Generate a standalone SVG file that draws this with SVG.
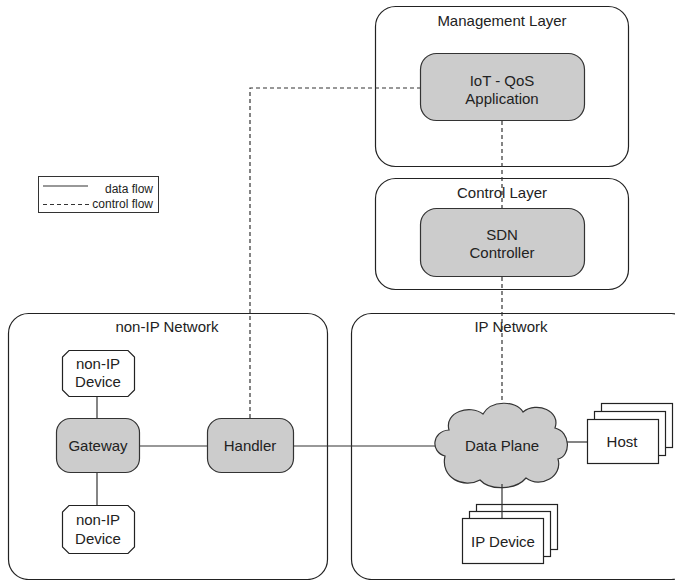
<svg xmlns="http://www.w3.org/2000/svg" width="675" height="580" viewBox="0 0 675 580">
  <style>
    .zone { fill: #ffffff; stroke: #222; stroke-width: 1.2; }
    .proc { fill: #cccccc; stroke: #333; stroke-width: 1.2; }
    .box { fill: #ffffff; stroke: #222; stroke-width: 1.2; }
    .lbl { font-family: "Liberation Sans", Arial, sans-serif; font-size: 15px; fill: #222; text-anchor: middle; }
    .leg { font-family: "Liberation Sans", Arial, sans-serif; font-size: 12px; fill: #222; text-anchor: end; }
    .data { fill: none; stroke: #333; stroke-width: 1.2; }
    .ctrl { fill: none; stroke: #333; stroke-width: 1.2; stroke-dasharray: 4 3; }
  </style>

  <rect width="675" height="580" fill="#ffffff"/>

  <!-- Layer and network regions -->
  <g id="management-layer">
    <rect class="zone" x="375.5" y="6.5" width="253" height="160" rx="20"/>
    <text class="lbl" x="502" y="26">Management Layer</text>
  </g>
  <g id="control-layer">
    <rect class="zone" x="375.5" y="178.5" width="253" height="111" rx="20"/>
    <text class="lbl" x="502" y="198">Control Layer</text>
  </g>
  <g id="non-ip-network">
    <rect class="zone" x="8.5" y="313.5" width="319" height="266" rx="20"/>
    <text class="lbl" x="167" y="332">non-IP Network</text>
  </g>
  <g id="ip-network">
    <rect class="zone" x="351.5" y="313.5" width="340" height="266" rx="20"/>
    <text class="lbl" x="511" y="332">IP Network</text>
  </g>

  <!-- Legend -->
  <g id="legend">
    <rect x="38.5" y="176.5" width="120" height="36" fill="#ffffff" stroke="#333" stroke-width="1"/>
    <line class="data" x1="43" y1="186" x2="88" y2="186"/>
    <text class="leg" x="153" y="193">data flow</text>
    <line class="ctrl" x1="43" y1="204.5" x2="90" y2="204.5"/>
    <text class="leg" x="153" y="208">control flow</text>
  </g>

  <!-- Connectors -->
  <g id="connectors">
    <polyline class="ctrl" points="250,418 250,88 420,88"/>
    <line class="ctrl" x1="502" y1="121" x2="502" y2="208"/>
    <line class="ctrl" x1="502" y1="277" x2="502" y2="408"/>
    <line class="data" x1="97" y1="397" x2="97" y2="418"/>
    <line class="data" x1="97" y1="472" x2="97" y2="505"/>
    <line class="data" x1="140" y1="446" x2="207" y2="446"/>
    <line class="data" x1="293" y1="446" x2="442" y2="446"/>
    <line class="data" x1="563" y1="442" x2="587" y2="442"/>
  </g>

  <!-- Nodes -->
  <g id="iot-qos-application">
    <rect class="proc" x="420.5" y="53.5" width="164" height="67" rx="16"/>
    <text class="lbl" x="502" y="86">IoT - QoS</text>
    <text class="lbl" x="502" y="104">Application</text>
  </g>

  <g id="sdn-controller">
    <rect class="proc" x="420.5" y="208.5" width="164" height="68" rx="16"/>
    <text class="lbl" x="502" y="240">SDN</text>
    <text class="lbl" x="502" y="258">Controller</text>
  </g>

  <g id="non-ip-device-top">
    <polygon class="box" points="69,350.5 128,350.5 134.5,357 134.5,390 128,396.5 69,396.5 62.5,390 62.5,357"/>
    <text class="lbl" x="98" y="369">non-IP</text>
    <text class="lbl" x="98" y="387">Device</text>
  </g>

  <g id="gateway">
    <rect class="proc" x="56.5" y="418.5" width="83" height="54" rx="14"/>
    <text class="lbl" x="98" y="451">Gateway</text>
  </g>

  <g id="non-ip-device-bottom">
    <polygon class="box" points="69,505.5 128,505.5 134.5,512 134.5,547 128,553.5 69,553.5 62.5,547 62.5,512"/>
    <text class="lbl" x="98" y="525">non-IP</text>
    <text class="lbl" x="98" y="544">Device</text>
  </g>

  <g id="handler">
    <rect class="proc" x="207.5" y="418.5" width="86" height="54" rx="14"/>
    <text class="lbl" x="250" y="451">Handler</text>
  </g>

  <g id="data-plane">
    <path class="proc" d="M 445,456 C 430,452 432,431 449,430 C 444,412 470,404 483,414 C 491,400 516,400 523,412 C 537,401 561,411 555,428 C 571,432 571,456 558,459 C 563,476 541,489 526,478 C 516,490 490,491 480,480 C 464,489 440,478 445,456 Z"/>
    <text class="lbl" x="502" y="451">Data Plane</text>
  </g>

  <g id="host">
    <rect class="box" x="601.5" y="403.5" width="71" height="44"/>
    <rect class="box" x="594.5" y="411.5" width="71" height="44"/>
    <rect class="box" x="587.5" y="419.5" width="71" height="44"/>
    <text class="lbl" x="622" y="447">Host</text>
  </g>

  <g id="ip-device">
    <rect class="box" x="476.5" y="504.5" width="81" height="45"/>
    <rect class="box" x="469.5" y="511.5" width="81" height="45"/>
    <line class="data" x1="502" y1="484" x2="502" y2="518"/>
    <rect class="box" x="462.5" y="518.5" width="81" height="45"/>
    <text class="lbl" x="503" y="547">IP Device</text>
  </g>
</svg>
